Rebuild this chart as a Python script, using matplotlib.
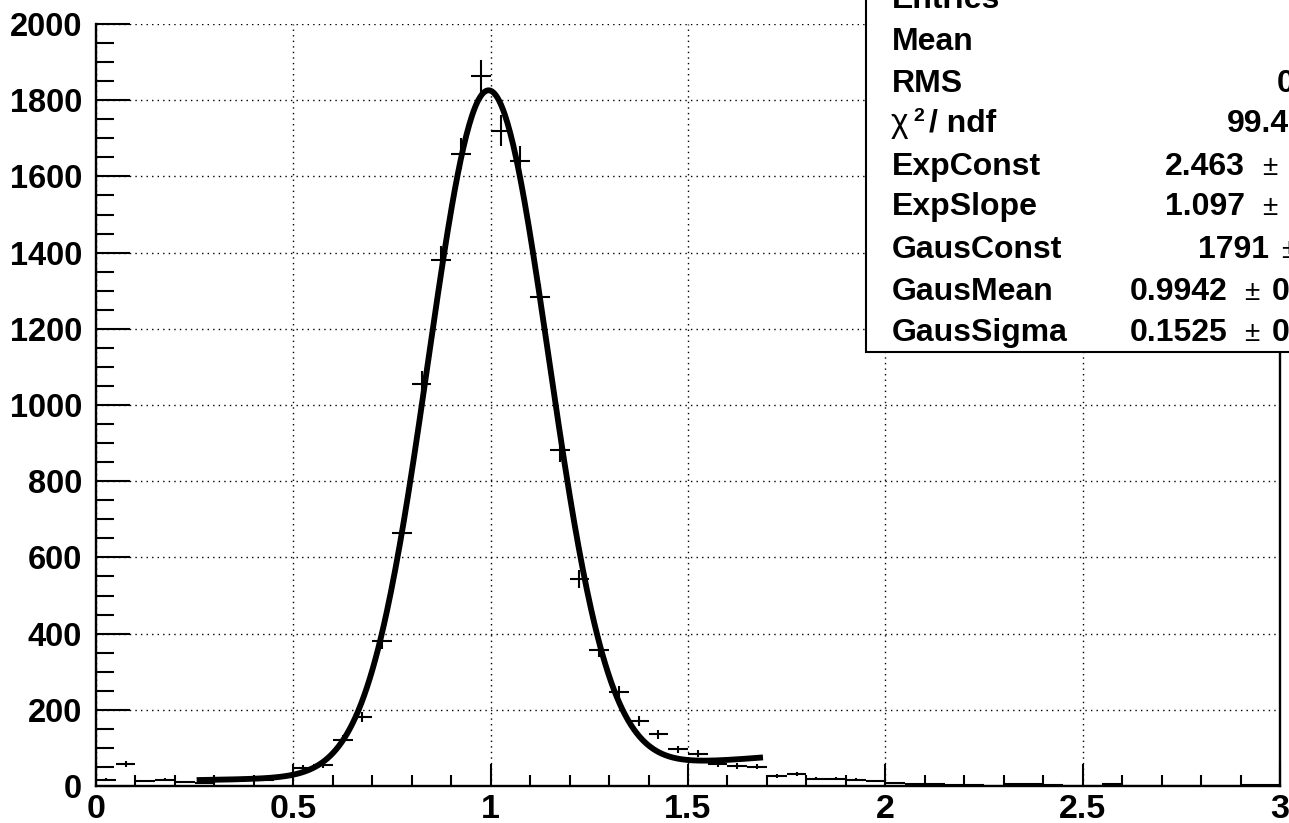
import numpy as np
import matplotlib.pyplot as plt
from matplotlib.patches import Rectangle
from matplotlib.ticker import MultipleLocator

# histogram: 60 bins of width 0.05 on [0, 3]
bin_width = 0.05
bin_centers = np.arange(60) * bin_width + bin_width / 2
counts = [
    16, 58, 13, 17, 10, 9, 14, 15, 17, 24,
    47, 56, 122, 182, 380, 663, 1056, 1380, 1660, 1863,
    1720, 1640, 1283, 881, 543, 358, 247, 170, 136, 96,
    85, 58, 53, 51, 26, 31, 19, 19, 17, 13,
    7, 5, 5, 2, 2, 1, 4, 4, 2, 1,
    1, 4, 1, 0, 1, 1, 0, 1, 2, 2,
]

# fit result shown in the stats box (gaus + expo)
exp_const = 2.463
exp_slope = 1.097
gaus_const = 1791
gaus_mean = 0.9942
gaus_sigma = 0.1525
fit_range = (0.255, 1.69)

x_ticks = [0, 0.5, 1, 1.5, 2, 2.5, 3]
x_tick_labels = ["0", "0.5", "1", "1.5", "2", "2.5", "3"]
y_ticks = list(range(0, 2001, 200))

W, H = 1289, 823
plt.rcParams["font.family"] = ["Liberation Sans", "DejaVu Sans"]
plt.rcParams["font.weight"] = "bold"


def fx(px):
    return px / W


def fy(py):
    return 1 - py / H


fig = plt.figure(figsize=(W / 100, H / 100), dpi=100)
ax = fig.add_axes([fx(96), fy(786), (1280 - 96) / W, (786 - 24) / H])

counts = np.array(counts, dtype=float)
ax.errorbar(bin_centers, counts, xerr=bin_width / 2, yerr=np.sqrt(counts),
            fmt="none", ecolor="black", elinewidth=1.5, capsize=0, zorder=3)

xf = np.linspace(fit_range[0], fit_range[1], 400)
yf = (gaus_const * np.exp(-0.5 * ((xf - gaus_mean) / gaus_sigma) ** 2)
      + np.exp(exp_const + exp_slope * xf))
ax.plot(xf, yf, color="black", linewidth=4.2, solid_capstyle="butt", zorder=4)

ax.set_xlim(0, 3)
ax.set_ylim(0, 2000)
ax.set_xticks(x_ticks)
ax.set_xticklabels(x_tick_labels, fontsize=24.5, fontweight="bold")
ax.set_yticks(y_ticks)
ax.set_yticklabels([str(v) for v in y_ticks], fontsize=23.5, fontweight="bold")
ax.xaxis.set_minor_locator(MultipleLocator(0.1))
ax.yaxis.set_minor_locator(MultipleLocator(50))
ax.tick_params(axis="x", which="major", direction="in", length=16, width=1.5, pad=6)
ax.tick_params(axis="x", which="minor", direction="in", length=8, width=1.5)
ax.tick_params(axis="y", which="major", direction="in", length=24.5, width=1.5, pad=10)
ax.tick_params(axis="y", which="minor", direction="in", length=13, width=1.5)

ax.grid(True, which="major", color="black", linestyle=(0, (1, 3)), linewidth=1.0)
ax.set_axisbelow(True)
ax.spines["top"].set_visible(False)
for side in ["left", "bottom", "right"]:
    ax.spines[side].set_linewidth(1.7)

# stats box, running off the top-right corner
fig.add_artist(Rectangle((fx(866), fy(352)), fx(1400) - fx(866), fy(-50) - fy(352),
                         transform=fig.transFigure, facecolor="white",
                         edgecolor="black", linewidth=1.5, zorder=5))

labels = ["Entries", "Mean", "RMS", None, "ExpConst", "ExpSlope",
          "GausConst", "GausMean", "GausSigma"]
baselines = [8, 50, 92, 132, 175, 215, 258, 300, 341]
for lab, base in zip(labels, baselines):
    if lab is not None:
        fig.text(fx(892), fy(base), lab, fontsize=23, fontweight="bold",
                 va="baseline", ha="left", zorder=6)
fig.text(fx(891), fy(132), "\u03c7", fontsize=24, fontweight="normal",
         va="baseline", ha="left", zorder=6)
fig.text(fx(913), fy(121), "2", fontsize=14, fontweight="bold",
         va="baseline", ha="left", zorder=6)
fig.text(fx(929), fy(132), "/ ndf", fontsize=23, fontweight="bold",
         va="baseline", ha="left", zorder=6)

# visible part of the value column (rest is cut by the figure edge)
values = [("0", 1277, 92), ("99.4", 1227, 132), ("2.463", 1165, 175),
          ("1.097", 1165, 215), ("1791", 1198, 258), ("0.9942", 1130, 300),
          ("0.1525", 1130, 341)]
for txt, px, base in values:
    fig.text(fx(px), fy(base), txt, fontsize=23, fontweight="bold",
             va="baseline", ha="left", zorder=6)
pm_positions = [(1262, 175), (1262, 215), (1281, 258), (1244, 300), (1244, 341)]
for px, base in pm_positions:
    fig.text(fx(px), fy(base), "\u00b1", fontsize=20, fontweight="normal",
             va="baseline", ha="left", zorder=6)
for base in [300, 341]:
    fig.text(fx(1272), fy(base), "0", fontsize=23, fontweight="bold",
             va="baseline", ha="left", zorder=6)

fig.savefig("out.png", dpi=100)
